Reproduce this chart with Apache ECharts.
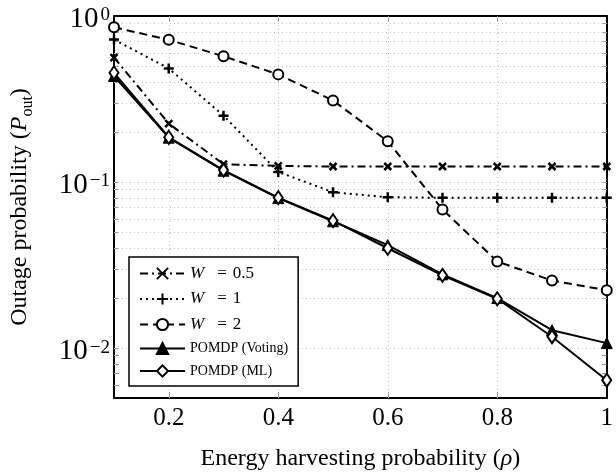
<!DOCTYPE html>
<html><head><meta charset="utf-8">
<script src="https://cdn.jsdelivr.net/npm/echarts@6/dist/echarts.min.js"></script>
<style>html,body{margin:0;padding:0;background:#fff}#c{width:616px;height:476px}</style>
</head><body><div id="c"></div>
<script>
// ---- data ----
const rho = [0.1, 0.2, 0.3, 0.4, 0.5, 0.6, 0.7, 0.8, 0.9, 1.0];
const w05 = [0.562, 0.225, 0.128, 0.125, 0.124, 0.124, 0.124, 0.124, 0.124, 0.124];
const w1 = [0.722, 0.483, 0.251, 0.115, 0.0868, 0.081, 0.0803, 0.0803, 0.0803, 0.0803];
const w2 = [0.855, 0.719, 0.572, 0.445, 0.31, 0.176, 0.0684, 0.0332, 0.0255, 0.0223];
const voting = [0.435, 0.185, 0.117, 0.080, 0.058, 0.0417, 0.0278, 0.0200, 0.0128, 0.0107];
const ml = [0.455, 0.186, 0.118, 0.0805, 0.0585, 0.0399, 0.0274, 0.0198, 0.0117, 0.0064];
const seriesNames = ['W = 0.5', 'W = 1', 'W = 2', 'POMDP (Voting)', 'POMDP (ML)'];
const xLabelValues = [0.2, 0.4, 0.6, 0.8, 1];
const xGridValues = [0.2, 0.4, 0.6, 0.8];
const yLabelValues = [0.01, 0.1, 1];
const yGridValues = [0.006, 0.007, 0.008, 0.009, 0.01, 0.02, 0.03, 0.04, 0.05, 0.06, 0.07, 0.08, 0.09,
                     0.1, 0.2, 0.3, 0.4, 0.5, 0.6, 0.7, 0.8, 0.9];

const FONT = 'Liberation Serif';
const chart = echarts.init(document.getElementById('c'), null, {renderer: 'canvas'});

function pts(arr) { return rho.map((x, i) => [x, arr[i]]); }
function mk(name, arr, symbol, size, dash, fill, bw) {
  return {
    name: name, type: 'line', data: pts(arr), symbol: symbol, symbolSize: size,
    showSymbol: true, animation: false, z: 3,
    lineStyle: {color: '#000', width: 2, type: dash},
    itemStyle: {color: fill, borderColor: '#000', borderWidth: bw}
  };
}
function supLabel(v) {
  let e = v > 0 ? Math.round(Math.log10(v)) : Math.round(v);
  const s = e < 0 ? '\u2212' + (-e) : '' + e;
  return '{b|10}{s|' + s + '}';
}

const gridLineData = yGridValues.map(v => ({yAxis: v})).concat(xGridValues.map(v => ({xAxis: v})));

const axisLineStyle = {show: true, onZero: false, lineStyle: {color: '#000', width: 2}};
const tickStyle = {color: '#999', width: 1};

const option = {
  animation: false,
  backgroundColor: '#fff',
  grid: {left: 113, right: 4, top: 16, bottom: 76, containLabel: false},
  xAxis: [{
    type: 'value', min: 0.1, max: 1, position: 'bottom',
    axisLine: axisLineStyle,
    axisTick: {show: true, inside: true, length: 6, customValues: xGridValues, lineStyle: tickStyle},
    axisLabel: {show: true, customValues: xLabelValues, margin: 8, fontFamily: FONT, fontSize: 25, color: '#000',
      formatter: v => (Math.abs(v - 1) < 1e-9 ? '1' : v.toFixed(1))},
    splitLine: {show: false},
    name: 'Energy harvesting probability ({i|\u03C1})', nameLocation: 'middle', nameGap: 49,
    nameTextStyle: {fontFamily: FONT, fontSize: 24, color: '#000',
      rich: {i: {fontFamily: FONT, fontStyle: 'italic', fontSize: 24, color: '#000'}}}
  }, {
    type: 'value', min: 0.1, max: 1, position: 'top',
    axisLine: axisLineStyle,
    axisTick: {show: true, inside: true, length: 6, customValues: xGridValues, lineStyle: tickStyle},
    axisLabel: {show: false}, splitLine: {show: false}
  }],
  yAxis: [{
    type: 'log', logBase: 10, min: 0.005, max: 1, position: 'left',
    axisLine: axisLineStyle,
    axisTick: {show: true, inside: true, length: 5, customValues: yGridValues, lineStyle: tickStyle},
    axisLabel: {show: true, customValues: yLabelValues, margin: 4, formatter: supLabel, padding: [6, 0, 0, 0],
      rich: {
        b: {fontFamily: FONT, fontSize: 29, color: '#000', lineHeight: 30, verticalAlign: 'bottom'},
        s: {fontFamily: FONT, fontSize: 19, color: '#000', lineHeight: 30, verticalAlign: 'top', padding: [2, 0, 0, 2]}
      }},
    splitLine: {show: false}, minorTick: {show: false},
    name: '{a|Outage probability (}{i|P}{u|out}{a|)}', nameLocation: 'middle', nameGap: 82, nameRotate: 90,
    nameTextStyle: {fontFamily: FONT, fontSize: 24, color: '#000',
      rich: {
        a: {fontFamily: FONT, fontSize: 24, color: '#000', lineHeight: 28, verticalAlign: 'bottom'},
        i: {fontFamily: FONT, fontStyle: 'italic', fontSize: 24, color: '#000', lineHeight: 28, verticalAlign: 'bottom'},
        u: {fontFamily: FONT, fontSize: 16, color: '#000', lineHeight: 28, verticalAlign: 'bottom', padding: [0, 0, -4, 0]}
      }}
  }, {
    type: 'log', logBase: 10, min: 0.005, max: 1, position: 'right',
    axisLine: axisLineStyle,
    axisTick: {show: true, inside: true, length: 5, customValues: yGridValues, lineStyle: tickStyle},
    axisLabel: {show: false}, splitLine: {show: false}
  }],
  legend: {
    data: seriesNames, orient: 'vertical', left: 129, top: 257,
    padding: [8, 10, 8, 10], itemGap: 8.5, itemWidth: 45, itemHeight: 14,
    backgroundColor: '#fff', borderColor: '#000', borderWidth: 1.5, borderRadius: 0,
    formatter: function (name) {
      if (name.charAt(0) === 'W') return '{w|W}{e|=}{n|' + name.slice(4) + '}';
      return '{p|' + name + '}';
    },
    textStyle: {fontFamily: FONT, color: '#000', lineHeight: 14,
      rich: {
        w: {fontFamily: FONT, fontStyle: 'italic', fontSize: 17, color: '#000', lineHeight: 14},
        e: {fontFamily: FONT, fontSize: 17, color: '#000', lineHeight: 14, padding: [0, 6, 0, 13]},
        n: {fontFamily: FONT, fontSize: 17, color: '#000', lineHeight: 14},
        p: {fontFamily: FONT, fontSize: 14, color: '#000', lineHeight: 14}
      }}
  },
  series: [
    {
      name: 'grid', type: 'line', data: [], z: 1, silent: true, animation: false,
      markLine: {
        silent: true, symbol: ['none', 'none'], z: 1, animation: false,
        label: {show: false},
        lineStyle: {color: '#c4c4c4', width: 1, type: [1, 3]},
        emphasis: {disabled: true},
        data: gridLineData
      }
    },
    mk('W = 0.5', w05, 'path://M0,0L10,10M10,0L0,10', 7, [8, 4, 2, 4], '#000', 2.5),
    mk('W = 1', w1, 'path://M5,0L5,10M0,5L10,5', 10, [2, 4], '#000', 2.5),
    mk('W = 2', w2, 'emptyCircle', 10, [8, 5], '#000', 2),
    mk('POMDP (Voting)', voting, 'triangle', 11, 'solid', '#000', 1),
    mk('POMDP (ML)', ml, 'emptyDiamond', [9, 13], 'solid', '#000', 2)
  ]
};
chart.setOption(option);
</script>
</body></html>
